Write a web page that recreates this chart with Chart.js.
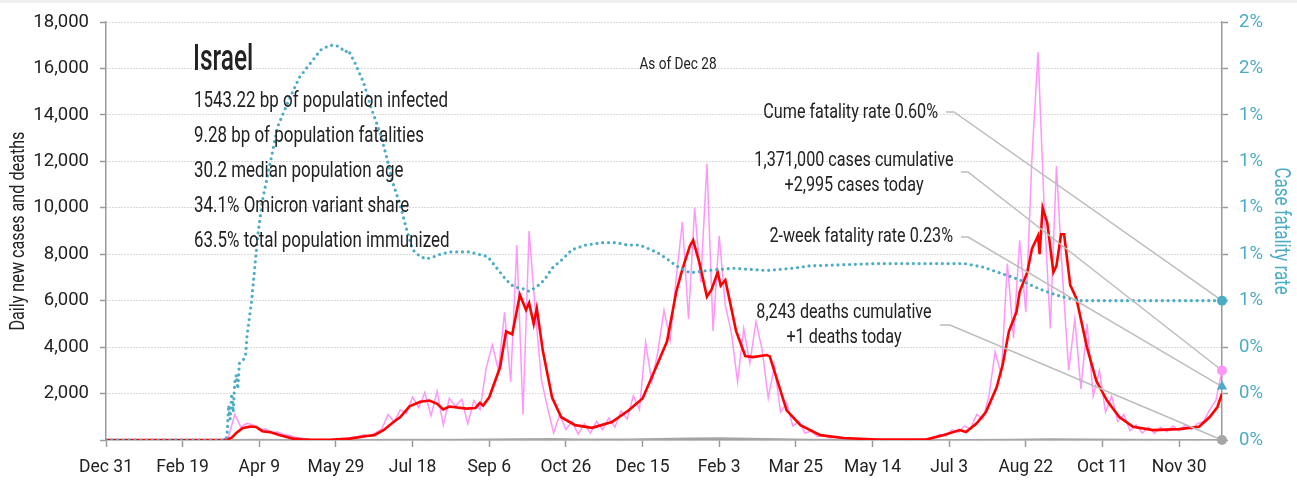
<!DOCTYPE html>
<html>
<head>
<meta charset="utf-8">
<script src="https://cdn.jsdelivr.net/npm/chart.js@4.4.1/dist/chart.umd.min.js"></script>
<style>
  html, body { margin: 0; padding: 0; background: #fff; }
  #c { display: block; }
</style>
</head>
<body>
<canvas id="c" width="1297" height="480"></canvas>
<script>
// Israel: daily cases, 7-day average, deaths and case fatality rate
var FONT = "Roboto, 'Liberation Sans', sans-serif";
var NARROW = 0.77;                     // horizontal squeeze for the text block
var START = Date.UTC(2019, 11, 31);   // day 0
var lastDay = 728;                     // Dec 28 2021
var tickStep = 50;

// daily new cases, one reading every 4 days from day 0
var dailyStep = 4;
var dailyCases = [
  0, 0, 0, 0, 0, 0, 0, 0, 0, 0,
  0, 0, 0, 0, 0, 0, 0, 0, 0, 0,
  150, 1100, 550, 720, 650, 420, 480, 320, 340, 240,
  190, 110, 60, 25, 10, 15, 10, 25, 40, 70,
  110, 140, 230, 170, 320, 480, 1100, 780, 1300, 1150,
  1850, 1400, 2050, 1050, 2100, 650, 1800, 1450, 1750, 700,
  1700, 1300, 3100, 4100, 3000, 5500, 2500, 8400, 1100, 9000,
  5600, 2600, 1400, 300, 1100, 450, 800, 250, 700, 300,
  800, 450, 950, 550, 1250, 900, 1900, 1300, 4200, 2500,
  3800, 5600, 4300, 7000, 9400, 5200, 10000, 6800, 11900, 4700,
  8800, 5800, 4600, 2500, 4800, 3300, 5100, 3900, 1800, 3200,
  1200, 1600, 600, 800, 300, 380, 150, 200, 90, 120,
  60, 90, 40, 55, 20, 35, 15, 25, 15, 20,
  10, 20, 15, 25, 40, 120, 250, 180, 450, 330,
  600, 480, 1100, 900, 1900, 3800, 2800, 7600, 4400, 8600,
  5500, 12100, 16700, 10000, 4800, 11800, 7000, 3000, 5200, 2200,
  5000, 1900, 3000, 1200, 1900, 800, 1100, 400, 650, 300,
  550, 280, 550, 350, 600, 400, 650, 450, 700, 800,
  1300, 1700, 2995
];

// 7-day average of new cases
var avgDays = [0, 78, 82, 85, 89, 94, 98, 102, 107, 113, 122, 128, 133, 146, 159, 170, 175, 181, 188, 192,
  198, 205, 211, 216, 220, 224, 235, 241, 244, 246, 250, 257, 261, 265, 270, 274, 276, 279, 281, 285,
  291, 297, 306, 317, 330, 341, 350, 357, 366, 372, 376, 381, 383, 387, 392, 395, 399, 401, 404, 407,
  411, 417, 422, 431, 433, 438, 444, 453, 466, 481, 503, 535, 546, 557, 561, 568, 574, 581, 585, 589,
  594, 596, 601, 604, 608, 609, 611, 614, 618, 620, 623, 625, 629, 633, 640, 646, 653, 661, 670, 683,
  700, 713, 720, 725, 728];
var avgCases = [0, 0, 100, 300, 510, 580, 560, 380, 340, 220, 60, 30, 15, 10, 60, 170, 210, 420, 800, 990,
  1450, 1650, 1700, 1560, 1320, 1440, 1350, 1380, 1600, 1480, 1840, 3120, 4680, 4550, 6250, 5600, 5900, 5000, 5670, 3830,
  1830, 980, 640, 525, 770, 1280, 1790, 2850, 4250, 6380, 7360, 8380, 8600, 7660, 6170, 6470, 7230, 6650, 6890, 5960,
  4700, 3620, 3570, 3660, 3600, 2550, 1280, 640, 210, 85, 20, 20, 200, 425, 340, 720, 1200, 2270, 3260, 4680,
  5530, 6380, 7230, 8230, 8800, 8000, 10000, 9360, 7230, 7500, 8860, 8860, 6670, 6100, 3970, 2550, 1700, 990, 570, 425,
  470, 570, 990, 1420, 2000];

// daily deaths
var deathDays = [0, 80, 100, 120, 150, 190, 230, 270, 290, 310, 340, 380, 400, 430, 460, 500, 560, 590, 615, 640, 670, 700, 728];
var deathCounts = [0, 0, 10, 5, 1, 8, 15, 35, 40, 25, 20, 60, 70, 40, 15, 2, 1, 15, 30, 25, 8, 5, 1];

// case fatality rate, percent
var cfrDays = [0, 78, 79, 80, 81, 82, 83, 84, 85, 86, 87, 89, 91, 92, 93, 95, 97, 99, 102, 107,
  112, 119, 126, 133, 140, 146, 150, 153, 156, 158, 162, 168, 173, 179, 183, 187, 192, 196, 200, 205,
  209, 214, 218, 224, 237, 243, 249, 255, 261, 266, 273, 276, 281, 286, 291, 298, 304, 313, 324, 333,
  340, 348, 359, 366, 372, 381, 392, 409, 431, 448, 459, 503, 535, 560, 572, 583, 596, 609, 622, 635, 728];
var cfrPct = [0, 0, 0.02, 0.15, 0.09, 0.2, 0.12, 0.25, 0.28, 0.22, 0.33, 0.34, 0.36, 0.45, 0.5, 0.6, 0.74, 0.88, 1.03, 1.19,
  1.35, 1.46, 1.56, 1.62, 1.68, 1.70, 1.70, 1.69, 1.67, 1.68, 1.63, 1.54, 1.43, 1.32, 1.22, 1.11, 1.01, 0.91, 0.82, 0.79,
  0.78, 0.79, 0.80, 0.81, 0.81, 0.80, 0.79, 0.74, 0.69, 0.66, 0.65, 0.64, 0.66, 0.69, 0.74, 0.78, 0.82, 0.84, 0.85, 0.85,
  0.84, 0.84, 0.81, 0.78, 0.75, 0.72, 0.73, 0.74, 0.73, 0.74, 0.75, 0.76, 0.76, 0.76, 0.745, 0.72, 0.69, 0.65, 0.62, 0.60, 0.60];

// headline figures
var country = 'Israel';
var statLines = [
  '1543.22 bp of population infected',
  '9.28 bp of population fatalities',
  '30.2 median population age',
  '34.1% Omicron variant share',
  '63.5% total population immunized'
];
var asOfText = 'As of Dec 28';
var cumeCfr = 0.60;
var twoWeekCfr = 0.23;
var cumCases = 1371000;
var casesToday = 2995;
var cumDeaths = 8243;
var deathsToday = 1;

var PINK = '#ff96fa', RED = '#ff0000', CYAN = '#4bacc6', GREY = '#a6a6a6', AXIS = '#9a9a9a', INK = '#222';
var MONTHS = ['Jan', 'Feb', 'Mar', 'Apr', 'May', 'Jun', 'Jul', 'Aug', 'Sep', 'Oct', 'Nov', 'Dec'];

function dayLabel(d) {
  var t = new Date(START + d * 864e5);
  return MONTHS[t.getUTCMonth()] + ' ' + t.getUTCDate();
}
function pairs(xs, ys) {
  return xs.map(function(x, i) { return {x: x, y: ys[i]}; });
}
function fmt(n) { return n.toLocaleString('en-US'); }

// condensed text: draw squeezed horizontally around the anchor point
function squeezed(ctx, text, x, y, font, align, sx, rot) {
  ctx.save();
  ctx.translate(x, y);
  if (rot) ctx.rotate(rot);
  ctx.scale(sx, 1);
  ctx.font = font;
  ctx.textAlign = align;
  ctx.textBaseline = 'middle';
  ctx.fillText(text, 0, 0);
  ctx.restore();
}

Chart.defaults.font.family = FONT;
Chart.defaults.color = INK;

// text block, annotations and leader lines
var overlay = {
  id: 'overlay',
  beforeDraw: function(chart) {
    var ctx = chart.ctx;
    ctx.save();
    ctx.fillStyle = '#fff';
    ctx.fillRect(0, 0, chart.width, chart.height);
    ctx.fillStyle = '#efefef';
    ctx.fillRect(0, 0, chart.width, 3);
    ctx.restore();
  },
  afterDatasetDraw: function(chart, args) {
    if (args.index !== 3) return;
    var ctx = chart.ctx, x = chart.scales.x, y = chart.scales.y, y2 = chart.scales.y2;
    var ex = x.getPixelForValue(lastDay);
    var leaders = [
      [946, 112, 954, y2.getPixelForValue(cumeCfr)],
      [961, 172, 968, y.getPixelForValue(casesToday)],
      [961, 237, 968, y2.getPixelForValue(twoWeekCfr)],
      [940, 325, 950, y.getPixelForValue(deathsToday)]
    ];
    ctx.save();
    ctx.strokeStyle = '#bdbdbd';
    ctx.lineWidth = 1.5;
    leaders.forEach(function(l) {
      ctx.beginPath();
      ctx.moveTo(l[0], l[1]);
      ctx.lineTo(l[2], l[1]);
      ctx.lineTo(ex, l[3]);
      ctx.stroke();
    });
    ctx.restore();
  },
  afterDraw: function(chart) {
    var ctx = chart.ctx, area = chart.chartArea;
    ctx.save();
    ctx.fillStyle = INK;

    squeezed(ctx, country, 193, 61, '500 36px ' + FONT, 'left', 0.68);
    statLines.forEach(function(s, i) {
      squeezed(ctx, s, 194, 101 + i * 35, '22px ' + FONT, 'left', NARROW);
    });
    squeezed(ctx, asOfText, 678, 65, '17px ' + FONT, 'center', 0.8);

    var f = '21px ' + FONT;
    squeezed(ctx, 'Cume fatality rate ' + cumeCfr.toFixed(2) + '%', 938, 113, f, 'right', NARROW);
    squeezed(ctx, '2-week fatality rate ' + twoWeekCfr.toFixed(2) + '%', 953, 237, f, 'right', NARROW);
    squeezed(ctx, fmt(cumCases) + ' cases cumulative', 854, 161, f, 'center', NARROW);
    squeezed(ctx, '+' + fmt(casesToday) + ' cases today', 854, 186, f, 'center', NARROW);
    squeezed(ctx, fmt(cumDeaths) + ' deaths cumulative', 844, 313, f, 'center', NARROW);
    squeezed(ctx, '+' + deathsToday + ' deaths today', 844, 338, f, 'center', NARROW);

    // axis titles
    var cy = (area.top + area.bottom) / 2;
    squeezed(ctx, 'Daily new cases and deaths', 19, cy, '21px ' + FONT, 'center', NARROW, -Math.PI / 2);
    ctx.fillStyle = CYAN;
    squeezed(ctx, 'Case fatality rate', 1280, cy, '22px ' + FONT, 'center', NARROW, Math.PI / 2);
    ctx.restore();
  }
};

function marker(value, axis, color, style, r) {
  return {
    data: [{x: lastDay, y: value}], yAxisID: axis, showLine: false, clip: false,
    pointStyle: style, pointRadius: r, pointBackgroundColor: color, pointBorderColor: color,
    pointBorderWidth: 0, order: 0
  };
}

new Chart(document.getElementById('c'), {
  type: 'line',
  data: {
    datasets: [
      { label: 'Daily cases', data: dailyCases.map(function(v, i) { return {x: i * dailyStep, y: v}; }),
        yAxisID: 'y', borderColor: PINK, borderWidth: 1.5, pointRadius: 0, order: 5 },
      { label: 'Daily deaths', data: pairs(deathDays, deathCounts),
        yAxisID: 'y', borderColor: GREY, borderWidth: 2, pointRadius: 0, order: 4 },
      { label: '7-day average', data: pairs(avgDays, avgCases),
        yAxisID: 'y', borderColor: RED, borderWidth: 2.6, pointRadius: 0, order: 3 },
      { label: 'Case fatality rate', data: pairs(cfrDays, cfrPct),
        yAxisID: 'y2', borderColor: CYAN, borderWidth: 3.2, borderDash: [0, 5.8], borderCapStyle: 'round',
        pointRadius: 0, order: 2 },
      marker(cumeCfr, 'y2', CYAN, 'circle', 5),
      marker(casesToday, 'y', PINK, 'circle', 5),
      marker(twoWeekCfr, 'y2', CYAN, 'triangle', 6),
      marker(deathsToday, 'y', GREY, 'circle', 5)
    ]
  },
  options: {
    responsive: false,
    animation: false,
    devicePixelRatio: 1,
    layout: { padding: { top: 17, left: 0, right: 0, bottom: 0 } },
    plugins: { legend: { display: false }, tooltip: { enabled: false } },
    scales: {
      x: {
        type: 'linear', min: 0, max: lastDay,
        afterFit: function(s) { s.height = 40; },
        ticks: { stepSize: tickStep, includeBounds: false, autoSkip: false, maxRotation: 0, padding: 10,
          font: { size: 17.5 }, color: INK, callback: function(v) { return dayLabel(v); } },
        grid: { drawOnChartArea: false, tickLength: 7, tickColor: AXIS, tickWidth: 1.5 },
        border: { color: AXIS, width: 1.5 }
      },
      y: {
        position: 'left', min: 0, max: 18000,
        afterFit: function(s) { s.width = 106; },
        ticks: { stepSize: 2000, padding: 11, font: { size: 18.5 }, color: INK,
          callback: function(v) { return v === 0 ? '' : fmt(v); } },
        grid: { color: '#b4b4b4', lineWidth: 1, tickLength: 6, tickColor: AXIS, tickWidth: 1.5 },
        border: { color: AXIS, width: 1.5, dash: [1, 2] }
      },
      y2: {
        position: 'right', min: 0, max: 1.8,
        afterFit: function(s) { s.width = 75; },
        ticks: { stepSize: 0.2, padding: 11, font: { size: 18.5 }, color: CYAN,
          callback: function(v) { return Math.round(v) + '%'; } },
        grid: { drawOnChartArea: false, tickLength: 6, tickColor: AXIS, tickWidth: 1.5 },
        border: { color: AXIS, width: 1.5 }
      }
    }
  },
  plugins: [overlay]
});
</script>
</body>
</html>
